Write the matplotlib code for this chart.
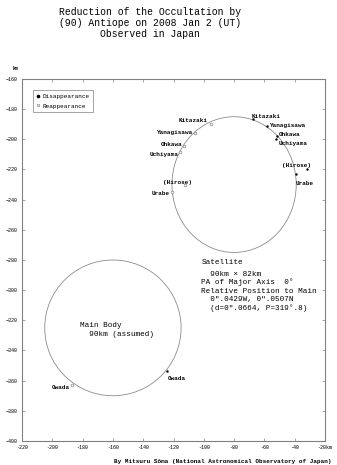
"""
Asteroid occultation reduction chart: (90) Antiope, 2008 Jan 2 (UT).
Main body and satellite outlines with observed disappearance/reappearance points.
"""

import matplotlib
matplotlib.use("Agg")
import matplotlib.pyplot as plt
from matplotlib.patches import Ellipse
from matplotlib.lines import Line2D

FONT = "Liberation Mono"
plt.rcParams["font.family"] = [FONT, "DejaVu Sans"]

# ─────────────────────────────────────────────────────────────────────────────
# Data (km, relative frame)
# ─────────────────────────────────────────────────────────────────────────────

disap_names = ["Kitazaki", "Yanagisawa", "Ohkawa", "Uchiyama", "(Hirose)", "Urabe", "Owada"]
disap_x     = [-67.5, -58.3, -51.7, -52.3, -31.9, -39.1, -124.3]
disap_y     = [-186.5, -191.2, -197.8, -199.8, -219.7, -223.0, -353.6]

reap_names  = ["Kitazaki", "Yanagisawa", "Ohkawa", "Uchiyama", "(Hirose)", "Urabe", "Owada"]
reap_x      = [-95.2, -105.8, -113.1, -115.7, -112.4, -121.0, -187.0]
reap_y      = [-189.8, -195.8, -204.4, -208.4, -230.3, -234.9, -362.9]

main_center = (-160.0, -325.0)
main_diam   = 90.0
sat_center  = (-80.0, -230.0)
sat_size    = (82.0, 90.0)     # width (E-W), height (N-S)

x_ticks = list(range(-220, 0, 20))
y_ticks = list(range(-400, -140, 20))

# label placement: (dx px, dy px, ha)
disap_offsets = [(-1, 2, "left"), (3, 1, "left"), (2, 2, "left"), (3, -4, "left"),
                 (-10, 4, "center"), (0, -9, "left"), (1, -7, "left")]
reap_offsets  = [(-3, 3, "right"), (-2, 0, "right"), (-1, 1, "right"), (-1, -2, "right"),
                 (-8, 3, "center"), (-2, -2, "right"), (-2, -2, "right")]

# ─────────────────────────────────────────────────────────────────────────────
# Figure
# ─────────────────────────────────────────────────────────────────────────────

fig = plt.figure(figsize=(3.37, 4.65), dpi=100)
ax = fig.add_axes([22 / 337, 24 / 465, 303 / 337, 362 / 465])
ax.set_xlim(-220, -20)
ax.set_ylim(-400, -160)

for s in ax.spines.values():
    s.set_color("#808080")
    s.set_linewidth(0.8)

ax.set_xticks(x_ticks)
ax.set_yticks(y_ticks)
ax.set_xticklabels([str(t) if t != -20 else "-20km" for t in x_ticks])
ax.tick_params(direction="in", length=2.5, width=0.5, color="#808080",
               labelsize=3.6, top=True, right=True, pad=3)

# outlines
ax.add_patch(Ellipse(main_center, main_diam, main_diam, fill=False,
                     ec="#8c8c8c", lw=0.6))
ax.add_patch(Ellipse(sat_center, sat_size[0], sat_size[1], fill=False,
                     ec="#8c8c8c", lw=0.6))

# chord end points
ax.scatter(disap_x, disap_y, s=3, color="black", zorder=5, linewidths=0)
ax.scatter(reap_x, reap_y, s=4, facecolor="white", edgecolor="#707070",
           linewidths=0.4, zorder=5)

for names, xs, ys, offs in [(disap_names, disap_x, disap_y, disap_offsets),
                            (reap_names, reap_x, reap_y, reap_offsets)]:
    for n, x, y, (dx, dy, ha) in zip(names, xs, ys, offs):
        ax.annotate(n, (x, y), xytext=(dx, dy), textcoords="offset pixels",
                    ha=ha, va="center", fontsize=4.3, fontweight="bold")

# legend
handles = [Line2D([], [], ls="", marker="o", ms=1.6, color="black"),
           Line2D([], [], ls="", marker="o", ms=1.8, mfc="white",
                  mec="#707070", mew=0.4)]
leg = ax.legend(handles, ["Disappearance", "Reappearance"], loc="upper left",
                bbox_to_anchor=(0.036, 0.97), borderaxespad=0, fontsize=4.3,
                fancybox=False, framealpha=1, handlelength=0.6,
                handletextpad=0.4, borderpad=0.6, labelspacing=0.8)
leg.get_frame().set_edgecolor("#808080")
leg.get_frame().set_linewidth(0.5)

# satellite description
sat_lines = ["Satellite", "  90km \u00d7 82km", "PA of Major Axis  0\u00b0",
             "Relative Position to Main", "  0\u2033.0429W, 0\u2033.0507N",
             "  (d=0\u2033.0664, P=319\u00b0.8)"]
sat_line_y = [0.492, 0.459, 0.439, 0.414, 0.392, 0.368]
for line, ly in zip(sat_lines, sat_line_y):
    ax.text(0.592, ly, line, transform=ax.transAxes, fontsize=5.5,
            va="center", ha="left")

ax.text(0.19, 0.32, "Main Body", transform=ax.transAxes, fontsize=5.5,
        va="center", ha="left")
ax.text(0.19, 0.295, "  90km (assumed)", transform=ax.transAxes, fontsize=5.5,
        va="center", ha="left")

for i, line in enumerate(["Reduction of the Occultation by",
                          "(90) Antiope on 2008 Jan 2 (UT)",
                          "Observed in Japan"]):
    fig.text(0.445, 1 - (12 + 11 * i) / 465, line, ha="center", va="center",
             fontsize=7)

fig.text(16 / 337, 1 - 68 / 465, "km", ha="center", va="center", fontsize=3.6,
         fontweight="bold")
fig.text(0.985, 1 - 461 / 465,
         "By Mitsuru S\u014dma (National Astronomical Observatory of Japan)",
         ha="right", va="center", fontsize=4.3, fontweight="bold")

fig.savefig("out.png", dpi=100)
plt.close(fig)
